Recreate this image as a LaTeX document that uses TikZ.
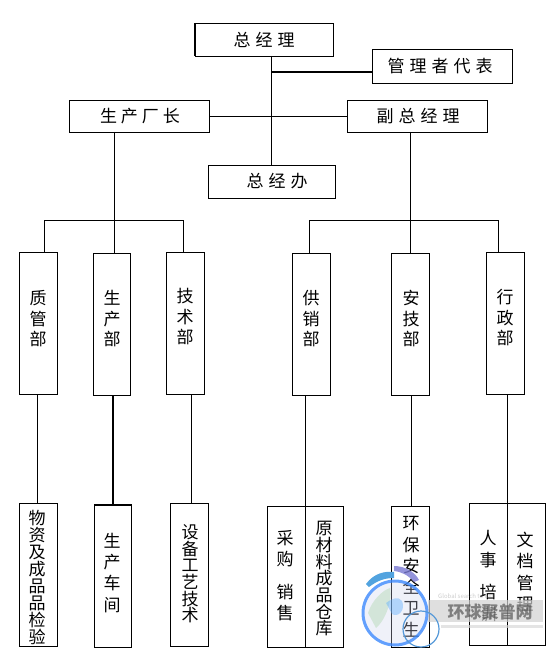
\documentclass[tikz,border=0pt]{standalone}
\usepackage{fontspec}
\setmainfont{Noto Sans CJK SC}
\newcommand{\hs}[1]{\hspace{#1pt}}
% box: name, x1, y1, x2, y2, text x, text y, text
\newcommand{\bx}[8]{%
  \pgfmathsetmacro{\cxx}{(#2+#4)/2}\pgfmathsetmacro{\cyy}{(#3+#5)/2}%
  \pgfmathsetmacro{\bww}{#4-#2}\pgfmathsetmacro{\bhh}{#5-#3}%
  \pgfmathsetmacro{\dxx}{#6-\cxx}\pgfmathsetmacro{\dyy}{\cyy-#7}%
  \node[boxn,minimum width=\bww pt,minimum height=\bhh pt] (#1) at (\cxx,\cyy)
    {\makebox[0pt]{\hspace{2\dimexpr\dxx pt\relax}\raisebox{\dimexpr\dyy pt\relax}[0pt][0pt]{\raisebox{-.36em}{#8}}}};%
}
\newcommand{\vs}[2]{\parbox[c]{18pt}{\centering\fontsize{17}{#1}\selectfont #2\par}}
\tikzset{
  x=1pt,y=-1pt,
  boxn/.style={draw=black,line width=.7pt,inner sep=0pt,outer sep=0pt,font=\fontsize{17}{17}\selectfont},
  conn/.style={draw=black,line width=.7pt},
  thickconn/.style={draw=black,line width=1.8pt},
}
\begin{document}
\begin{tikzpicture}
\useasboundingbox (0,0) rectangle (554,660);
% boxes
\bx{gm}{195}{23}{333}{56}{264}{40}{总\hs{5}经\hs{5}理}
\bx{rep}{372}{49.5}{512}{83}{440}{66.5}{管\hs{5}理\hs{5}者\hs{5}代\hs{5}表}
\bx{plant}{69.5}{100.5}{209}{132}{140}{116.5}{生\hs{4}产\hs{4}厂\hs{4}长}
\bx{vice}{347.5}{100.5}{487}{132}{418}{116.5}{副\hs{5}总\hs{5}经\hs{5}理}
\bx{office}{208.5}{165.5}{335}{198}{277}{181.5}{总\hs{5}经\hs{5}办}
\bx{qa}{19.5}{252.5}{57.5}{394}{38}{317}{\vs{20.5}{质\\管\\部}}
\bx{prod}{93.5}{253.5}{130.5}{395}{112}{317}{\vs{20.5}{生\\产\\部}}
\bx{tech}{166.5}{252.5}{204.5}{394}{185}{315}{\vs{20.5}{技\\术\\部}}
\bx{sales}{292.5}{253.5}{330.5}{395}{311}{317}{\vs{20.5}{供\\销\\部}}
\bx{safe}{391.5}{253.5}{429.5}{395}{411}{317}{\vs{20.5}{安\\技\\部}}
\bx{admin}{486.5}{252.5}{524.5}{394}{505}{316}{\vs{20.5}{行\\政\\部}}
\bx{b1}{19.5}{503.5}{57.5}{646}{37}{576}{\vs{17}{物\\资\\及\\成\\品\\品\\检\\验}}
\bx{b2}{94.5}{505.5}{131.5}{647}{112}{571}{\vs{21.4}{生\\产\\车\\间}}
\bx{b3}{170.5}{503.5}{208.5}{646}{190}{572}{\vs{16.7}{设\\备\\工\\艺\\技\\术}}
\bx{b4}{267.5}{506.5}{305.5}{647}{285}{574}{\vs{21}{采\\购\\[12pt]销\\售}}
\bx{b5}{305.5}{506.5}{343.5}{647}{324}{577}{\vs{16.7}{原\\材\\料\\成\\品\\仓\\库}}
\bx{b6}{391.5}{506.5}{429.5}{647}{411}{575}{\vs{21.3}{环\\保\\安\\全\\卫\\生}}
\bx{b7}{469.5}{503.5}{507.5}{645}{488}{574}{\vs{21.5}{人\\事\\[11pt]培\\训}}
\bx{b8}{507.5}{503.5}{545.5}{645}{525}{570}{\vs{21.5}{文\\档\\管\\理}}
% junction coordinates
\coordinate (j1) at (271,72);
\coordinate (l1) at (114.5,220);
\coordinate (r1) at (410.5,220);
% connectors
\draw[conn] (gm.south -| 271,0) -- (office.north -| 271,0);
\draw[thickconn] (j1) -- (rep.west |- j1);
\draw[conn] (plant.east) -- (vice.west);
\draw[conn] (plant.south -| l1) -- (prod.north -| l1);
\draw[conn] (vice.south -| r1) -- (safe.north -| r1);
\draw[conn] (qa.north -| 44.5,0) -- (44.5,220) -- (183.5,220) -- (tech.north -| 183.5,0);
\draw[conn] (sales.north -| 309.5,0) -- (309.5,220) -- (498.5,220) -- (admin.north -| 498.5,0);
\draw[conn] (qa.south -| 37.5,0) -- (b1.north -| 37.5,0);
\draw[thickconn] (prod.south -| 113,0) -- (b2.north -| 113,0);
\draw[conn] (tech.south -| 191.5,0) -- (b3.north -| 191.5,0);
\draw[conn] (sales.south -| 305.5,0) -- (b5.north west);
\draw[conn] (safe.south -| 411.5,0) -- (b6.north -| 411.5,0);
\draw[conn] (admin.south -| 507.5,0) -- (b8.north west);
% thickened edges
\draw[line width=1.8pt] (gm.north west) -- (gm.south west);
\fill[black] (94,504.4) rectangle (132,506.4);
% watermark
\fill[gray!35,opacity=.7] (428,600) rectangle (543,622);
\fill[gray!30,opacity=.7] (441,625) rectangle (543,628);
\node[opacity=.4,text=gray,font=\fontsize{6}{6}\selectfont] (wms) at (466,596) {Global search to net};
\node[opacity=.65,text=black!70,font=\fontsize{17}{17}\selectfont\bfseries] (wmt) at (490,612) {环球聚普网};
\fill[cyan!30!blue!20,opacity=.3] (395,613) circle (33);
\fill[green!35!gray!50,opacity=.4] (368,613) .. controls (372,600) and (383,590) .. (390,588) .. controls (393,603) and (383,623) .. (376,628) -- cycle;
\fill[blue!50!cyan!60,opacity=.45] (386,603) .. controls (393,598) and (398,596) .. (402,601) .. controls (406,610) and (398,618) .. (392,614) -- cycle;
\draw[blue!60!cyan!80,line width=3pt,opacity=.75] (395,613) circle (32);
\fill[cyan!70!blue!70] (366,584) .. controls (374,573) and (385,571) .. (394,572) -- (394,578) .. controls (384,578) and (377,581) .. (369,587) -- cycle;
\fill[blue!50!gray!70,opacity=.8] (394,566) .. controls (405,566) and (415,572) .. (419,580) -- (414,582) .. controls (408,575) and (402,572) .. (394,571) -- cycle;
\draw[cyan!60!blue!70,line width=1.2pt] (421,629) circle (18);
\end{tikzpicture}
\end{document}
